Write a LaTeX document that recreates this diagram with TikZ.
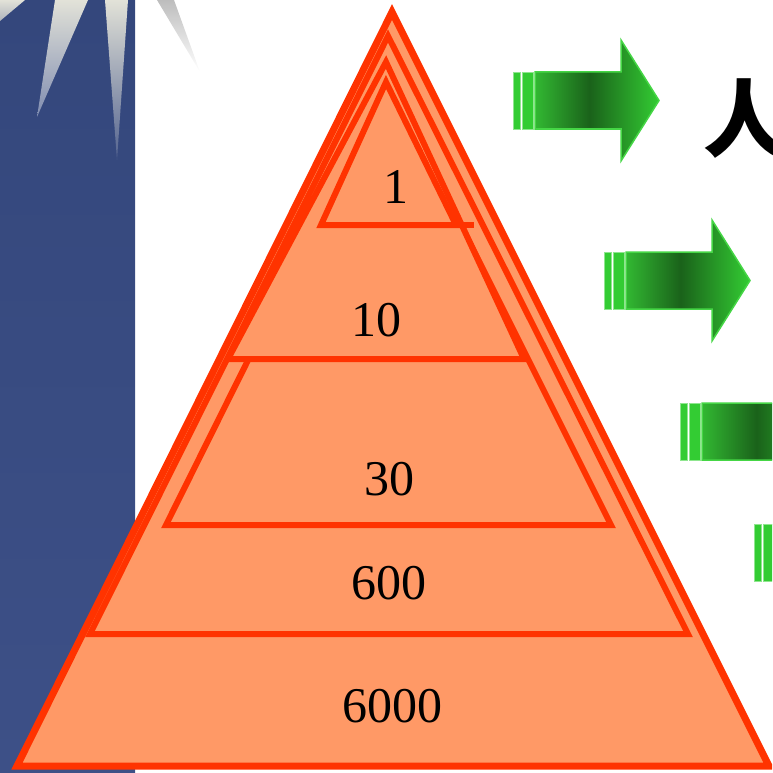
\documentclass[tikz,border=0pt]{standalone}
\usepackage{fontspec}
\setmainfont{Liberation Serif}
\newfontfamily\cjk{Noto Sans CJK SC}
\definecolor{panelTop}{HTML}{34477C}
\definecolor{panelBot}{HTML}{3D5087}
\definecolor{rayTop}{HTML}{E2E2D8}
\definecolor{rayBot}{HTML}{7F8CB0}
\definecolor{rayGrey}{HTML}{BDBDBD}
\definecolor{pyrFill}{HTML}{FF9966}
\definecolor{pyrLine}{HTML}{FF3300}
\definecolor{gA}{HTML}{32B832}
\definecolor{gB}{HTML}{1A621A}
\definecolor{gC}{HTML}{33CC33}
\definecolor{gEdge}{HTML}{45D645}
\pgfdeclarehorizontalshading{greenarrow}{100bp}{color(0bp)=(gA); color(25bp)=(gA); color(47bp)=(gB); color(75bp)=(gC); color(100bp)=(gC)}
\tikzset{
  layer/.style={fill=pyrFill, draw=pyrLine, line width=6pt, line join=miter},
  numlabel/.style={font=\fontsize{50}{50}\selectfont, inner sep=0pt},
  stripe/.style={fill=gC, draw=gEdge!60!white, line width=0.8pt},
  arrowbody/.style={draw=gEdge, line width=1.5pt, shading=greenarrow},
  garrow/.pic={
    \path[stripe] (-22,0) rectangle (-15,57);
    \path[stripe] (-13,0) rectangle (-2,57);
    \path[arrowbody] (0,0) -- (86,0) -- (86,-32) -- (124,28.5) -- (86,89) -- (86,57) -- (0,57) -- cycle;
  }
}
\begin{document}
\begin{tikzpicture}[x=1pt,y=-1pt]
\useasboundingbox (0,0) rectangle (772,773);
\clip (0,0) rectangle (772,773);
% background panel
\shade[top color=panelTop, bottom color=panelBot] (0,0) rectangle (135,773);
% rays
\shade[top color=rayTop, bottom color=rayTop!70!panelTop] (0,0) -- (25,0) -- (0,21) -- cycle;
\shade[top color=rayTop, bottom color=rayBot] (55,0) -- (88,0) -- (37,117) -- cycle;
\shade[top color=rayTop, bottom color=panelTop!85!white] (105,0) -- (128,0) -- (117,160) -- cycle;
\shade[top color=rayGrey, bottom color=white] (157,0) -- (174,0) -- (200,72) -- cycle;
% pyramid
\path[layer, line width=7pt] (392,12) -- (769,766) -- (17,766) -- cycle;
\path[layer] (388,36) -- (688,634) -- (90,634) -- cycle;
\path[layer] (388,79) -- (611,525) -- (166,525) -- cycle;
\path[layer] (386,62) -- (524,359) -- (228,359) -- cycle;
\path[layer] (386,82) -- (456,225) -- (321,225) -- cycle;
\draw[pyrLine, line width=6pt] (456,225) -- (474,225);
\node[numlabel] (n1) at (396,187) {1};
\node[numlabel] (n10) at (376,320) {10};
\node[numlabel] (n30) at (389,479) {30};
\node[numlabel] (n600) at (389,583) {600};
\node[numlabel] (n6000) at (392,706) {6000};
% green arrows
\pic at (535,72) {garrow};
\pic at (626,252) {garrow};
\pic at (702,403) {garrow};
\pic at (776,524) {garrow};
% text
\node[anchor=base west, inner sep=0pt, font=\cjk\bfseries\fontsize{84}{84}\selectfont] (ren) at (703,150) {人};
\end{tikzpicture}
\end{document}
